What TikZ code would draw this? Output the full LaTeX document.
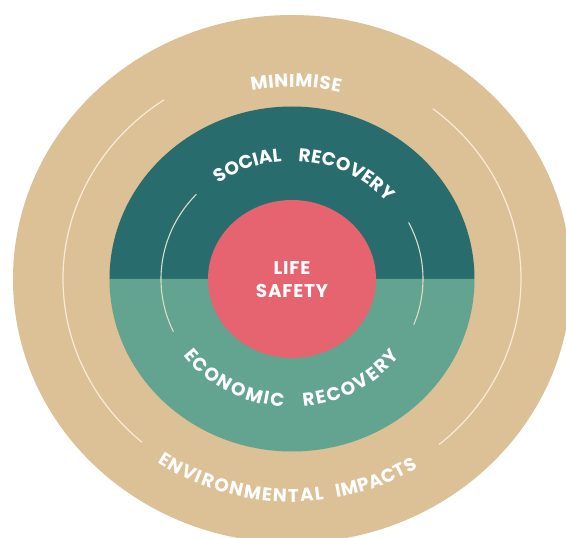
\documentclass[tikz,border=0pt]{standalone}
\usepackage{fontspec}
\setmainfont{Poppins}
\usetikzlibrary{decorations.text}
\definecolor{ringtan}{HTML}{DCC096}
\definecolor{darkteal}{HTML}{286C6E}
\definecolor{lightteal}{HTML}{62A490}
\definecolor{corepink}{HTML}{E66470}
\definecolor{cream}{HTML}{F8EBD8}
\newcommand\ringfont{\fontsize{18.5}{18.5}\selectfont\bfseries}
\newfontfamily\corefamily[LetterSpace=4]{Poppins}
\tikzset{
  arcline/.style={draw=cream, line width=1.2pt, line cap=round},
  innerarc/.style={draw=cream!80!lightteal, line width=1.1pt, line cap=round},
  arclabel/.style={decorate, decoration={text along path, text align={fit to path}, text color=white, text={|\ringfont|#1}}}
}
\begin{document}
\begin{tikzpicture}[x=1pt,y=1pt]
\useasboundingbox (-292,-259) rectangle (274,279);
\clip (-292,-259) rectangle (274,279);
\fill[white] (-292,-259) rectangle (274,279);
% outer ring
\fill[ringtan] (0,0) ellipse [x radius=279pt, y radius=264pt];
% middle disc, two halves
\fill[darkteal] (0:182.5pt and 172.5pt) arc[start angle=0, end angle=180, x radius=182.5pt, y radius=172.5pt] -- cycle;
\fill[lightteal] (180:182.5pt and 172.5pt) arc[start angle=180, end angle=360, x radius=182.5pt, y radius=172.5pt] -- cycle;
% core
\fill[corepink] (0,0) ellipse [x radius=84pt, y radius=79pt];
% outer thin arcs
\draw[arcline] (124:229pt and 216pt) arc[start angle=124, end angle=229, x radius=229pt, y radius=216pt];
\draw[arcline] (-50:229pt and 216pt) arc[start angle=-50, end angle=52, x radius=229pt, y radius=216pt];
% inner thin arcs
\draw[innerarc] (137:131pt and 124pt) arc[start angle=137, end angle=205, x radius=131pt, y radius=124pt];
\draw[innerarc] (-21.5:131pt and 124pt) arc[start angle=-21.5, end angle=27, x radius=131pt, y radius=124pt];
% curved labels
\path[arclabel=MINIMISE] (101.5:203pt and 192pt) arc[start angle=101.5, end angle=76.3, x radius=203pt, y radius=192pt];
\path[arclabel=SOCIAL] (126:125pt and 118pt) arc[start angle=126, end angle=95.6, x radius=125pt, y radius=118pt];
\path[arclabel=RECOVERY] (87.2:125pt and 118pt) arc[start angle=87.2, end angle=40.6, x radius=125pt, y radius=118pt];
\path[arclabel=ECONOMIC] (216.4:135pt and 128pt) arc[start angle=216.4, end angle=266.5, x radius=135pt, y radius=128pt];
\path[arclabel=RECOVERY] (274.8:135pt and 128pt) arc[start angle=274.8, end angle=323, x radius=135pt, y radius=128pt];
\path[arclabel=ENVIRONMENTAL] (235.2:236pt and 223pt) arc[start angle=235.2, end angle=277.8, x radius=236pt, y radius=223pt];
\path[arclabel=IMPACTS] (280.9:236pt and 223pt) arc[start angle=280.9, end angle=302.3, x radius=236pt, y radius=223pt];
% core label
\node[text=white, align=center, inner sep=0pt, font=\corefamily\bfseries\fontsize{18.5}{23}\selectfont] (life) at (0,-0.5) {LIFE\\SAFETY};
\end{tikzpicture}
\end{document}
